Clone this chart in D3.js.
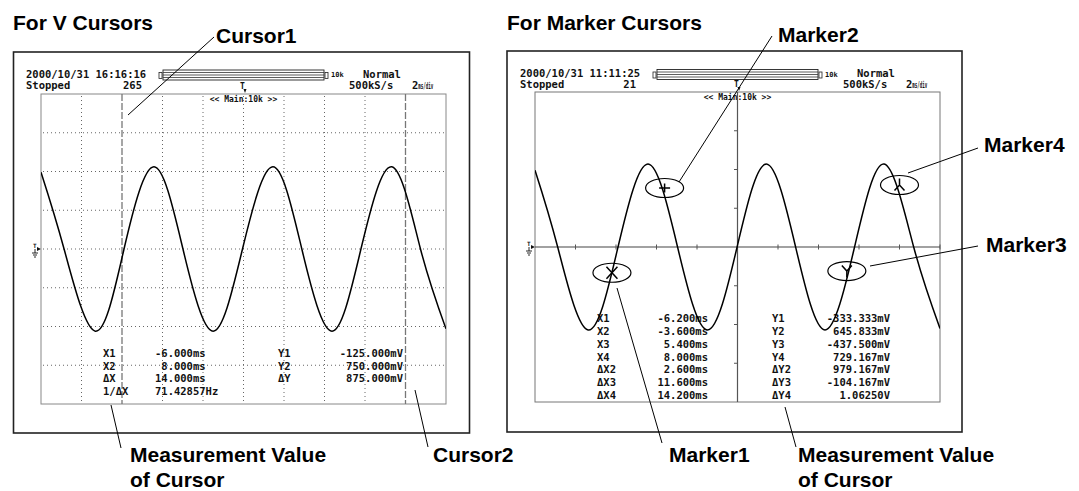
<!DOCTYPE html>
<html><head><meta charset="utf-8">
<script src="https://cdn.jsdelivr.net/npm/d3@7"></script>
<style>
html,body{margin:0;padding:0;background:#fff;}
svg{display:block;}
.mono{font-family:"DejaVu Sans Mono","Liberation Mono",monospace;font-weight:bold;fill:#111;white-space:pre;}
.lbl{font-family:"Liberation Sans",Arial,Helvetica,sans-serif;font-weight:bold;font-size:21px;fill:#000;}
</style></head><body>
<svg id="c" width="1079" height="491"></svg>
<script>
// ---------------- DATA ----------------
// Time axis: 2 ms/div, 10 divisions; voltage axis: 8 divisions
const timeDomain = [-10, 10];          // ms
const voltDomain = [-2, 2];            // V
const gridTimes = [-8, -6, -4, -2, 0, 2, 4, 6, 8];
const gridVolts = [-1.5, -1, -0.5, 0, 0.5, 1, 1.5];

// Left screen waveform (key points: peaks, troughs, zero crossings)
const leftWaveTime = [-10, -8.86, -7.32, -5.90, -4.42, -2.99, -1.50, -0.05, 1.45, 2.88, 4.37, 5.80, 7.32, 8.74, 10];
const leftWaveVolt = [0.99, 0, -1.06, 0, 1.06, 0, -1.06, 0, 1.06, 0, -1.06, 0, 1.06, 0, -1.03];

// Right screen waveform
const rightWaveTime = [-10, -8.88, -7.38, -5.90, -4.42, -2.96, -1.48, -0.02, 1.42, 2.87, 4.32, 5.78, 7.24, 8.70, 10];
const rightWaveVolt = [0.99, 0, -1.07, 0, 1.07, 0, -1.07, 0, 1.07, 0, -1.07, 0, 1.07, 0, -1.05];

// V cursors
const cursorTimes = [-6, 8];

// Marker cursors
const markerTimes = [-6.2, -3.6, 5.4, 8.0];
const markerVolts = [-0.332, 0.761, -0.31, 0.80];
const markerGlyphs = ["X", "+", "Y", "L"];

// Header texts
const leftHeader = {date: "2000/10/31 16:16:16", state: "Stopped", count: "265", mode: "Normal", rate: "500kS/s", tdiv: "2", rec: "10k", zoom: "<< Main:10k >>"};
const rightHeader = {date: "2000/10/31 11:11:25", state: "Stopped", count: "21", mode: "Normal", rate: "500kS/s", tdiv: "2", rec: "10k", zoom: "<< Main:10k >>"};

// Measurement tables
const leftXLabels = ["X1", "X2", "ΔX", "1/ΔX"];
const leftXValues = ["-6.000ms", " 8.000ms", "14.000ms", "71.42857Hz"];
const leftYLabels = ["Y1", "Y2", "ΔY"];
const leftYValues = ["-125.000mV", "750.000mV", "875.000mV"];

const rightXLabels = ["X1", "X2", "X3", "X4", "ΔX2", "ΔX3", "ΔX4"];
const rightXValues = ["-6.200ms", "-3.600ms", "5.400ms", "8.000ms", "2.600ms", "11.600ms", "14.200ms"];
const rightYLabels = ["Y1", "Y2", "Y3", "Y4", "ΔY2", "ΔY3", "ΔY4"];
const rightYValues = ["-333.333mV", "645.833mV", "-437.500mV", "729.167mV", "979.167mV", "-104.167mV", "1.06250V"];

// Callout labels
const titles = ["For V Cursors", "For Marker Cursors"];
const callouts = ["Cursor1", "Cursor2", "Marker1", "Marker2", "Marker3", "Marker4"];
const measLabel = ["Measurement Value", "of Cursor"];

// ---------------- LAYOUT ----------------
const svg = d3.select("#c");
const P = {
  left:  {frame: [13.5, 52, 469.5, 433], L: 41, R: 446, T: 94, B: 404, hy1: 77.5, hy2: 89, barY: 70},
  right: {frame: [507, 51, 962, 432],   L: 535, R: 940, T: 92, B: 402, hy1: 77, hy2: 88, barY: 69.5}
};

function scalesFor(p) {
  return {
    x: d3.scaleLinear().domain(timeDomain).range([p.L, p.R]),
    y: d3.scaleLinear().domain(voltDomain).range([p.B, p.T])
  };
}

function drawHeader(g, p, h) {
  g.append("rect").attr("x", p.frame[0]).attr("y", p.frame[1])
    .attr("width", p.frame[2] - p.frame[0]).attr("height", p.frame[3] - p.frame[1])
    .attr("fill", "none").attr("stroke", "#222").attr("stroke-width", 1.6);
  const t = (x, y, s, size, anchor) => g.append("text").attr("class", "mono")
    .attr("x", x).attr("y", y).attr("font-size", size || 10.5)
    .attr("text-anchor", anchor || "start").text(s);
  t(p.L - 15, p.hy1, h.date);
  t(p.L - 15, p.hy2, h.state);
  t(p.L + 101, p.hy2, h.count, 10.5, "end");
  t(p.L + 322, p.hy1, h.mode);
  t(p.L + 308, p.hy2, h.rate);
  const td = t(p.L + 371, p.hy2, h.tdiv);
  td.append("tspan").attr("font-size", 8).attr("textLength", 15).attr("lengthAdjust", "spacingAndGlyphs").text("ms/div");
  t(p.L + 290, p.hy1 - 0.5, h.rec, 7).attr("font-weight", "normal");
  // record bar
  const bx0 = p.L + 118, bx1 = p.L + 288, by = p.barY;
  g.append("rect").attr("x", bx0).attr("y", by + 2.5).attr("width", 3).attr("height", 6)
    .attr("fill", "none").attr("stroke", "#222").attr("stroke-width", 0.8);
  g.append("rect").attr("x", bx0 + 4).attr("y", by).attr("width", bx1 - bx0 - 9).attr("height", 10)
    .attr("fill", "none").attr("stroke", "#222").attr("stroke-width", 0.9);
  [2.5, 5, 7.5].forEach(d => g.append("line").attr("x1", bx0 + 4).attr("x2", bx1 - 5)
    .attr("y1", by + d).attr("y2", by + d).attr("stroke", "#333").attr("stroke-width", 0.8));
  g.append("rect").attr("x", bx1 - 4).attr("y", by + 2.5).attr("width", 3).attr("height", 6)
    .attr("fill", "none").attr("stroke", "#222").attr("stroke-width", 0.8);
  // trigger position marker
  const cx = (p.L + p.R) / 2;
  t(cx - 1, p.T - 5, "T", 8).attr("text-anchor", "middle").attr("font-weight", "normal");
  g.append("path").attr("d", `M${cx},${p.T - 5} l3,0 l-1.5,4 z`).attr("fill", "#111");
  // zoom label
  t(cx, p.T + 7.5, h.zoom, 8, "middle").attr("font-weight", "normal");
  // ground / trigger level symbol
  const gy = (p.T + p.B) / 2;
  t(p.L - 8, gy - 1, "T", 6).attr("font-weight", "normal");
  g.append("path").attr("d", `M${p.L - 4},${gy - 2} l4,2 l-4,2 z`).attr("fill", "#111");
  g.append("path").attr("d", `M${p.L - 6},${gy} v4 M${p.L - 9},${gy + 4} h6 M${p.L - 8},${gy + 6} h4 M${p.L - 7},${gy + 8} h2`)
    .attr("stroke", "#111").attr("stroke-width", 0.9).attr("fill", "none");
}

function drawWave(g, p, s, times, volts, id) {
  svg.append("clipPath").attr("id", id).append("rect")
    .attr("x", p.L).attr("y", p.T).attr("width", p.R - p.L).attr("height", p.B - p.T);
  const line = d3.line().x(d => s.x(d[0])).y(d => s.y(d[1])).curve(d3.curveNatural);
  g.append("path").datum(d3.zip(times, volts)).attr("d", line)
    .attr("clip-path", `url(#${id})`)
    .attr("fill", "none").attr("stroke", "#000").attr("stroke-width", 1.5);
}

function drawTable(g, p, xl, xv, yl, yv, y0, dy, xValAnchor, xValPos) {
  xl.forEach((s, i) => g.append("text").attr("class", "mono").attr("font-size", 10.5)
    .attr("x", p.L + 62).attr("y", y0 + i * dy).text(s));
  xv.forEach((s, i) => g.append("text").attr("class", "mono").attr("font-size", 10.5)
    .attr("x", p.L + xValPos).attr("y", y0 + i * dy).attr("text-anchor", xValAnchor).text(s));
  yl.forEach((s, i) => g.append("text").attr("class", "mono").attr("font-size", 10.5)
    .attr("x", p.L + 237).attr("y", y0 + i * dy).text(s));
  yv.forEach((s, i) => g.append("text").attr("class", "mono").attr("font-size", 10.5)
    .attr("x", p.L + (xValAnchor === "start" ? 362 : 355)).attr("y", y0 + i * dy).attr("text-anchor", "end").text(s));
}

// ---------------- LEFT PANEL ----------------
{
  const p = P.left, s = scalesFor(p), g = svg.append("g");
  drawHeader(g, p, leftHeader);
  // dotted grid
  gridTimes.filter(t => !cursorTimes.includes(t)).forEach(t =>
    g.append("line").attr("x1", s.x(t)).attr("x2", s.x(t)).attr("y1", p.T + 2).attr("y2", p.B)
      .attr("stroke", "#666").attr("stroke-width", 1).attr("stroke-dasharray", "1,3"));
  gridVolts.forEach(v =>
    g.append("line").attr("x1", p.L + 2).attr("x2", p.R - 2).attr("y1", s.y(v)).attr("y2", s.y(v))
      .attr("stroke", "#666").attr("stroke-width", 1).attr("stroke-dasharray", "1,3"));
  g.append("rect").attr("x", p.L).attr("y", p.T).attr("width", p.R - p.L).attr("height", p.B - p.T)
    .attr("fill", "none").attr("stroke", "#888").attr("stroke-width", 1);
  // cursors
  cursorTimes.forEach(t =>
    g.append("line").attr("x1", s.x(t)).attr("x2", s.x(t)).attr("y1", p.T).attr("y2", p.B)
      .attr("stroke", "#777").attr("stroke-width", 1.3).attr("stroke-dasharray", "7,2"));
  drawTable(g, p, leftXLabels, leftXValues, leftYLabels, leftYValues, 357, 12.7, "start", 114);
  drawWave(g, p, s, leftWaveTime, leftWaveVolt, "clipL");
}

// ---------------- RIGHT PANEL ----------------
{
  const p = P.right, s = scalesFor(p), g = svg.append("g");
  drawHeader(g, p, rightHeader);
  g.append("rect").attr("x", p.L).attr("y", p.T).attr("width", p.R - p.L).attr("height", p.B - p.T)
    .attr("fill", "none").attr("stroke", "#777").attr("stroke-width", 1);
  const x0 = s.x(0), y0 = s.y(0);
  g.append("line").attr("x1", x0).attr("x2", x0).attr("y1", p.T).attr("y2", p.B).attr("stroke", "#555").attr("stroke-width", 1.2);
  g.append("line").attr("x1", p.L).attr("x2", p.R).attr("y1", y0).attr("y2", y0).attr("stroke", "#444").attr("stroke-width", 1.2);
  gridTimes.filter(t => t !== 0).concat([10]).forEach(t =>
    g.append("line").attr("x1", s.x(t)).attr("x2", s.x(t)).attr("y1", y0 - 2.5).attr("y2", y0 + 2.5)
      .attr("stroke", "#555").attr("stroke-width", 1));
  gridVolts.filter(v => v !== 0).forEach(v =>
    g.append("line").attr("x1", x0 - 3.5).attr("x2", x0).attr("y1", s.y(v)).attr("y2", s.y(v))
      .attr("stroke", "#555").attr("stroke-width", 1));
  drawTable(g, p, rightXLabels, rightXValues, rightYLabels, rightYValues, 322, 12.85, "end", 173);
  drawWave(g, p, s, rightWaveTime, rightWaveVolt, "clipR");
  // markers
  markerTimes.forEach((t, i) => {
    const cx = s.x(t), cy = s.y(markerVolts[i]);
    g.append("ellipse").attr("cx", cx).attr("cy", cy).attr("rx", 19).attr("ry", 9.5)
      .attr("fill", "none").attr("stroke", "#000").attr("stroke-width", 1.2);
    let d;
    switch (markerGlyphs[i]) {
      case "X": d = `M${cx - 5.5},${cy - 6} L${cx + 5.5},${cy + 6} M${cx - 5.5},${cy + 6} L${cx + 5.5},${cy - 6}`; break;
      case "+": d = `M${cx - 5.5},${cy} H${cx + 5.5} M${cx},${cy - 4.5} V${cy + 4.5}`; break;
      case "Y": d = `M${cx - 5},${cy - 5.5} L${cx},${cy} L${cx + 5},${cy - 5.5} M${cx},${cy} V${cy + 6.5}`; break;
      default:  d = `M${cx},${cy - 6.5} V${cy} M${cx - 5},${cy + 5.5} L${cx},${cy} L${cx + 5},${cy + 5.5}`;
    }
    g.append("path").attr("d", d).attr("stroke", "#000").attr("stroke-width", 1.5).attr("fill", "none");
  });
}

// ---------------- ANNOTATIONS ----------------
const ann = svg.append("g");
const leaders = [
  [[214, 37], [128, 115]], [[111, 405], [121, 448]], [[415, 390], [428, 447]],
  [[772, 36], [679, 182]], [[908, 173], [978, 148]], [[870, 266], [978, 246]],
  [[617, 288], [662, 443]], [[785, 407], [796, 447]]
];
leaders.forEach(l => ann.append("line").attr("x1", l[0][0]).attr("y1", l[0][1])
  .attr("x2", l[1][0]).attr("y2", l[1][1]).attr("stroke", "#000").attr("stroke-width", 1));
const lbl = (x, y, s) => ann.append("text").attr("class", "lbl").attr("x", x).attr("y", y).text(s);
lbl(13, 30, titles[0]);
lbl(507, 30, titles[1]);
lbl(216, 43, callouts[0]);
lbl(433, 462, callouts[1]);
lbl(669, 462, callouts[2]);
lbl(778, 42, callouts[3]);
lbl(986, 252, callouts[4]);
lbl(984, 152, callouts[5]);
lbl(130, 462, measLabel[0]); lbl(130, 487, measLabel[1]);
lbl(798, 462, measLabel[0]); lbl(798, 487, measLabel[1]);
</script>
</body></html>
